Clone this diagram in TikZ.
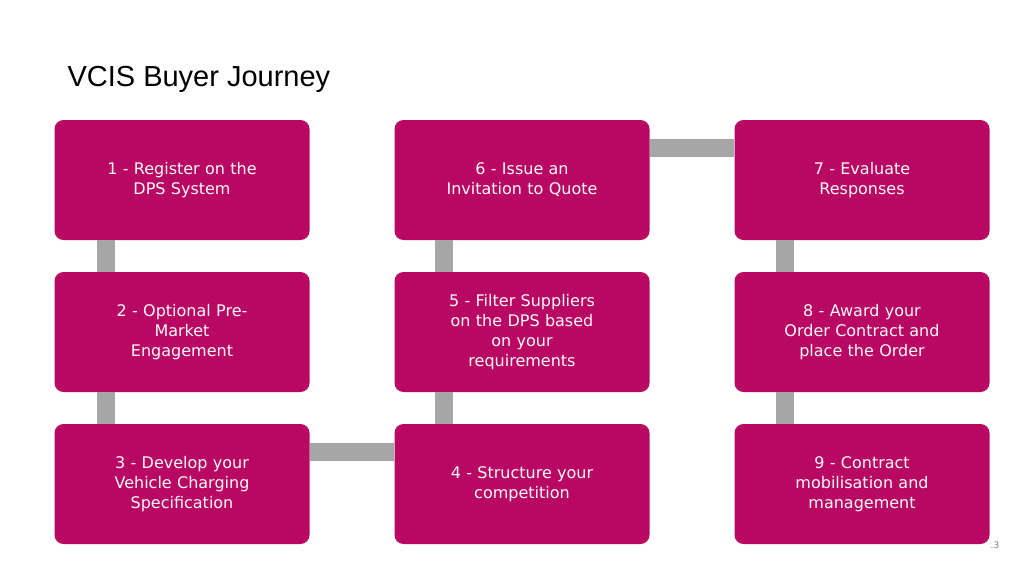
\documentclass[tikz,border=0pt]{standalone}
\usepackage{fontspec}
\setmainfont{DejaVu Sans}
\newfontfamily\titlefont{Liberation Sans}
\usetikzlibrary{positioning}
\definecolor{magenta}{HTML}{B80863}
\definecolor{bargray}{HTML}{A6A6A6}
\tikzset{
  stage/.style = {rectangle, rounded corners = 9, fill = magenta,
    minimum width = 255, minimum height = 120, text width = 240,
    align = center, text = white!90!pink,
    font = \fontsize{16}{20}\selectfont},
  bar/.style = {draw = bargray, line width = 18}
}
\begin{document}
\begin{tikzpicture}[x = 1pt, y = -1pt]
    \useasboundingbox (0, 0) rectangle (1024, 576);
    \node [anchor = base west, font = \titlefont\fontsize{29}{34}\selectfont]
      (title) at (64, 86) {VCIS Buyer Journey};

    \node [stage] (s-1) at (182, 180) {1 - Register on the\\DPS System};
    \node [stage] (s-2) at (182, 332) {2 - Optional Pre-\\Market\\Engagement};
    \node [stage] (s-3) at (182, 484) {3 - Develop your\\Vehicle Charging\\Specification};
    \node [stage] (s-4) at (522, 484) {4 - Structure your\\competition};
    \node [stage] (s-5) at (522, 332) {5 - Filter Suppliers\\on the DPS based\\on your\\requirements};
    \node [stage] (s-6) at (522, 180) {6 - Issue an\\Invitation to Quote};
    \node [stage] (s-7) at (862, 180) {7 - Evaluate\\Responses};
    \node [stage] (s-8) at (862, 332) {8 - Award your\\Order Contract and\\place the Order};
    \node [stage] (s-9) at (862, 484) {9 - Contract\\mobilisation and\\management};

    \draw [bar] ([xshift = -76]s-1.south) -- ([xshift = -76]s-2.north);
    \draw [bar] ([xshift = -76]s-2.south) -- ([xshift = -76]s-3.north);
    \draw [bar] ([yshift = 32]s-3.east) -- ([yshift = 32]s-4.west);
    \draw [bar] ([xshift = -78]s-4.north) -- ([xshift = -78]s-5.south);
    \draw [bar] ([xshift = -78]s-5.north) -- ([xshift = -78]s-6.south);
    \draw [bar] ([yshift = 32]s-6.east) -- ([yshift = 32]s-7.west);
    \draw [bar] ([xshift = -77]s-7.south) -- ([xshift = -77]s-8.north);
    \draw [bar] ([xshift = -77]s-8.south) -- ([xshift = -77]s-9.north);

    \node [font = \fontsize{9}{10}\selectfont, text = gray] (page) at (995, 545) {.3};
  \end{tikzpicture}
\end{document}
